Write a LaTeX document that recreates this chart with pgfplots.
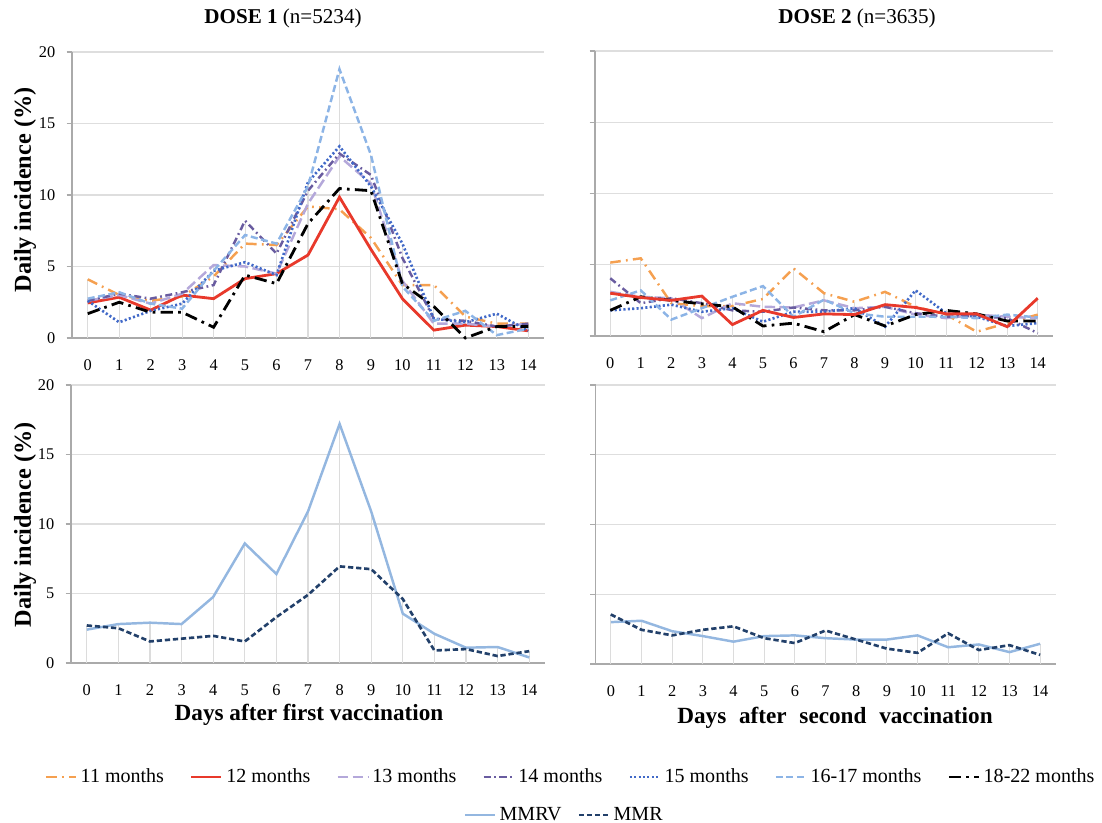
\documentclass[border=0pt]{standalone}
\usepackage{fontspec}
\setmainfont{Liberation Serif}
\usepackage{pgfplots}
\usepackage{pgfplotstable}
\pgfplotsset{compat=1.18}

\definecolor{cOrange}{RGB}{245,160,80}
\definecolor{cRed}{RGB}{232,57,43}
\definecolor{cLav}{RGB}{180,168,218}
\definecolor{cPurp}{RGB}{105,92,160}
\definecolor{cBlue}{RGB}{65,105,200}
\definecolor{cLBlue}{RGB}{140,180,230}
\definecolor{cMMRV}{RGB}{148,183,224}
\definecolor{cMMR}{RGB}{34,64,106}
\definecolor{gridgray}{RGB}{222,222,222}
\definecolor{axisgray}{RGB}{170,170,170}
\definecolor{dropgray}{RGB}{220,220,220}

\pgfplotstableread{
x s11 s12 s13 s14 s15 s1617 s1822
0 4.1 2.45 2.6 2.6 2.6 2.75 1.7
1 3.0 2.85 3.0 3.1 1.1 3.2 2.5
2 2.6 1.95 2.4 2.75 1.9 2.4 1.8
3 2.9 3.0 3.1 3.2 2.4 2.05 1.8
4 4.3 2.75 5.1 3.7 4.7 4.7 0.75
5 6.6 4.15 5.0 8.2 5.3 7.2 4.4
6 6.5 4.5 4.5 5.9 4.4 6.6 3.8
7 9.2 5.8 9.4 10.3 10.9 10.6 8.0
8 9.0 9.85 12.7 12.9 13.4 18.8 10.45
9 7.0 6.2 10.8 11.4 10.6 12.8 10.3
10 3.7 2.75 4.0 5.6 6.6 3.6 3.8
11 3.7 0.55 1.0 1.35 1.35 1.2 2.2
12 1.5 0.9 1.0 1.2 1.1 1.9 0.0
13 1.0 0.8 0.8 0.8 1.7 0.2 0.8
14 1.0 0.5 1.0 1.0 0.5 0.65 0.8
}\doseone

\pgfplotstableread{
x s11 s12 s13 s14 s15 s1617 s1822
0 5.15 3.0 3.1 4.05 1.8 2.5 1.8
1 5.45 2.7 2.75 2.3 1.95 3.2 2.75
2 2.3 2.5 2.65 2.65 2.2 1.15 2.5
3 2.1 2.8 1.25 2.3 1.7 1.95 2.25
4 2.1 0.8 2.3 1.8 1.95 2.75 2.05
5 2.6 1.8 2.05 1.7 1.0 3.5 0.7
6 4.75 1.3 2.0 2.0 1.7 1.35 0.9
7 3.0 1.55 2.5 1.8 1.7 2.55 0.3
8 2.4 1.5 1.95 1.8 1.95 1.6 1.5
9 3.1 2.2 2.05 2.05 0.65 1.35 0.7
10 2.05 2.0 1.5 1.6 3.2 1.35 1.5
11 1.5 1.55 1.25 1.35 1.6 1.35 1.8
12 0.3 1.55 1.5 1.4 1.35 1.25 1.55
13 0.9 0.65 1.35 1.25 0.7 1.5 1.05
14 1.5 2.65 1.25 0.2 0.9 1.3 1.05
}\dosetwo

\pgfplotstableread{
x mmrv mmr
0 2.4 2.7
1 2.8 2.5
2 2.9 1.55
3 2.8 1.75
4 4.75 1.95
5 8.6 1.55
6 6.4 3.3
7 10.9 4.9
8 17.2 6.95
9 10.9 6.75
10 3.55 4.6
11 2.1 0.9
12 1.1 1.0
13 1.15 0.5
14 0.4 0.85
}\vaccone

\pgfplotstableread{
x mmrv mmr
0 3.0 3.55
1 3.1 2.45
2 2.35 2.05
3 2.0 2.45
4 1.6 2.7
5 2.0 1.85
6 2.05 1.5
7 1.85 2.4
8 1.75 1.75
9 1.75 1.1
10 2.05 0.8
11 1.2 2.2
12 1.4 1.0
13 0.85 1.35
14 1.45 0.65
}\vacctwo

\pgfplotsset{
  panel/.style={
    scale only axis,
    xmin=-0.5, xmax=14.5, ymin=0, ymax=20,
    xtick={0,...,14}, ytick={0,5,10,15,20},
    axis x line*=bottom, axis y line*=left,
    axis line style={-, color=axisgray, line width=0.9pt},
    ymajorgrids, grid style={color=gridgray, line width=0.8pt},
    x tick style={draw=none},
    y tick style={color=axisgray, line width=0.8pt},
    tick align=outside, major tick length=3pt,
    /pgf/number format/assume math mode=true,
    tick label style={font=\fontsize{9.3}{10}\selectfont},
    xticklabel style={yshift=-6pt},
    yticklabel style={xshift=-3pt},
    clip=false,
    legend image code/.code={\draw[##1] (0cm,0cm) -- (0.6cm,0cm);},
  },
  drop/.style={ycomb, color=dropgray, line width=0.6pt, forget plot},
  p11/.style={color=cOrange, line width=1.4pt, dash pattern=on 6pt off 3pt on 1pt off 3pt},
  p12/.style={color=cRed, line width=1.6pt},
  p13/.style={color=cLav, line width=1.4pt, dash pattern=on 6pt off 2.5pt},
  p14/.style={color=cPurp, line width=1.4pt, dash pattern=on 4pt off 2pt on 1pt off 2pt},
  p15/.style={color=cBlue, line width=1.5pt, dash pattern=on 1.2pt off 1.3pt},
  p1617/.style={color=cLBlue, line width=1.4pt, dash pattern=on 4pt off 2pt},
  p1822/.style={color=black, line width=1.6pt, dash pattern=on 7pt off 3pt on 1.5pt off 3pt},
  pMMRV/.style={color=cMMRV, line width=1.4pt},
  pMMR/.style={color=cMMR, line width=1.5pt, dash pattern=on 3pt off 1.6pt},
}

\begin{document}
\begin{tikzpicture}[x=1cm,y=1cm]
\useasboundingbox (0,0) rectangle (22.04,16.46);

% ---------- DOSE 1, age groups ----------
\begin{axis}[panel, at={(1.44cm,9.70cm)}, anchor=south west, width=9.44cm, height=5.72cm,
  legend columns=7,
  legend style={at={(1.058,-1.535)}, anchor=center, draw=none, fill=none,
    font=\fontsize{11.4}{12}\selectfont,
    /tikz/every even column/.append style={column sep=0.45cm}},
  legend cell align=left]
\foreach \c in {s11,s12,s13,s14,s15,s1617,s1822}{\addplot[drop] table[x=x,y=\c]{\doseone};}
\addplot[p11] table[x=x,y=s11]{\doseone}; \addlegendentry{11 months}
\addplot[p12] table[x=x,y=s12]{\doseone}; \addlegendentry{12 months}
\addplot[p13] table[x=x,y=s13]{\doseone}; \addlegendentry{13 months}
\addplot[p14] table[x=x,y=s14]{\doseone}; \addlegendentry{14 months}
\addplot[p15] table[x=x,y=s15]{\doseone}; \addlegendentry{15 months}
\addplot[p1617] table[x=x,y=s1617]{\doseone}; \addlegendentry{16-17 months}
\addplot[p1822] table[x=x,y=s1822]{\doseone}; \addlegendentry{18-22 months}
\end{axis}

% ---------- DOSE 2, age groups ----------
\begin{axis}[panel, at={(11.90cm,9.74cm)}, anchor=south west, width=9.16cm, height=5.70cm,
  yticklabels={}]
\foreach \c in {s11,s12,s13,s14,s15,s1617,s1822}{\addplot[drop] table[x=x,y=\c]{\dosetwo};}
\addplot[p11] table[x=x,y=s11]{\dosetwo};
\addplot[p13] table[x=x,y=s13]{\dosetwo};
\addplot[p14] table[x=x,y=s14]{\dosetwo};
\addplot[p15] table[x=x,y=s15]{\dosetwo};
\addplot[p1617] table[x=x,y=s1617]{\dosetwo};
\addplot[p1822] table[x=x,y=s1822]{\dosetwo};
\addplot[p12] table[x=x,y=s12]{\dosetwo};
\end{axis}

% ---------- DOSE 1, vaccines ----------
\begin{axis}[panel, at={(1.42cm,3.20cm)}, anchor=south west, width=9.48cm, height=5.56cm,
  legend columns=2,
  legend style={at={(1.042,-0.547)}, anchor=center, draw=none, fill=none,
    font=\fontsize{11.4}{12}\selectfont,
    /tikz/every even column/.append style={column sep=0.25cm}},
  legend cell align=left]
\foreach \c in {mmrv,mmr}{\addplot[drop] table[x=x,y=\c]{\vaccone};}
\addplot[pMMRV] table[x=x,y=mmrv]{\vaccone}; \addlegendentry{MMRV}
\addplot[pMMR] table[x=x,y=mmr]{\vaccone}; \addlegendentry{MMR}
\end{axis}

% ---------- DOSE 2, vaccines ----------
\begin{axis}[panel, at={(11.91cm,3.18cm)}, anchor=south west, width=9.20cm, height=5.58cm,
  yticklabels={}]
\foreach \c in {mmrv,mmr}{\addplot[drop] table[x=x,y=\c]{\vacctwo};}
\addplot[pMMRV] table[x=x,y=mmrv]{\vacctwo};
\addplot[pMMR] table[x=x,y=mmr]{\vacctwo};
\end{axis}

% ---------- titles and labels ----------
\node[font=\fontsize{12}{14}\selectfont] at (5.66,16.10) {\textbf{DOSE 1} (n=5234)};
\node[font=\fontsize{12}{14}\selectfont] at (17.14,16.10) {\textbf{DOSE 2} (n=3635)};
\node[font=\bfseries\fontsize{13.8}{16}\selectfont, rotate=90] at (0.50,12.66) {Daily incidence (\%)};
\node[font=\bfseries\fontsize{13.8}{16}\selectfont, rotate=90] at (0.50,5.96) {Daily incidence (\%)};
\node[font=\bfseries\fontsize{13.2}{16}\selectfont] at (6.18,2.16) {Days after first vaccination};
\node[font=\bfseries\fontsize{13.2}{16}\selectfont] at (16.70,2.10) {Days\hspace{0.3em} after\hspace{0.3em} second\hspace{0.3em} vaccination};
\end{tikzpicture}
\end{document}
